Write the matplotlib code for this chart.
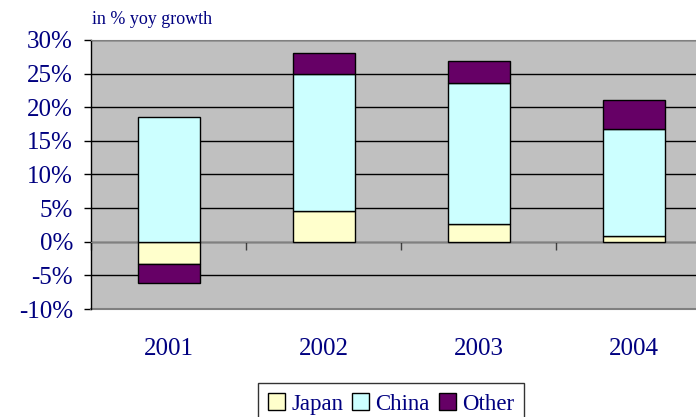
import numpy as np
import matplotlib.pyplot as plt
from matplotlib.ticker import MultipleLocator, FuncFormatter
from matplotlib.patches import Patch

# yoy growth contributions, in %
years = ['2001', '2002', '2003', '2004']
japan = [-3.3, 4.6, 2.7, 0.8]
china = [18.6, 20.3, 20.9, 15.9]
other = [-2.9, 3.1, 3.3, 4.4]

navy = '#000080'
plt.rcParams['font.family'] = ['Liberation Serif', 'DejaVu Serif']

fig = plt.figure(figsize=(6.96, 4.17), dpi=100)
ax = fig.add_axes([91 / 696, 1 - 309 / 417, 620 / 696, 269 / 417])
ax.set_facecolor('#C0C0C0')

x = np.arange(len(years))
japan = np.array(japan)
china = np.array(china)
other = np.array(other)

# positive values stack upward, negative values downward
pos = np.zeros(len(years))
neg = np.zeros(len(years))
for vals, col, name in [(japan, '#FFFFCC', 'Japan'), (china, '#CCFFFF', 'China'), (other, '#660066', 'Other')]:
    base = np.where(vals >= 0, pos, neg)
    ax.bar(x, vals, 0.4, bottom=base, color=col, edgecolor='black', linewidth=1, zorder=3)
    pos = pos + np.where(vals >= 0, vals, 0)
    neg = neg + np.where(vals < 0, vals, 0)

ax.set_xlim(-0.5, 3.5)
ax.set_ylim(-10, 30)
ax.yaxis.set_major_locator(MultipleLocator(5))
ax.yaxis.set_major_formatter(FuncFormatter(lambda v, p: f'{v:.0f}%'))
ax.grid(axis='y', color='black', linewidth=1, zorder=1)
ax.tick_params(axis='y', labelsize=18, labelcolor=navy, length=5, width=1, pad=8)

# x axis at 0, labels pushed down below the plot area
ax.spines['bottom'].set_position(('data', 0))
ax.spines['bottom'].set_color('#808080')
ax.set_xticks(x)
ax.set_xticklabels(years)
ax.set_xticks(np.arange(-0.5, 3.5, 1), minor=True)
ax.tick_params(axis='x', which='major', length=0, labelsize=18, labelcolor=navy, pad=69)
ax.tick_params(axis='x', which='minor', length=6, width=1, color='#404040', direction='out')

ax.spines['left'].set_linewidth(1)
ax.spines['top'].set_color('#808080')
ax.spines['right'].set_visible(False)
ax.axhline(-10, color='#808080', linewidth=1.5, zorder=2, clip_on=False)

fig.text(92 / 696, 1 - 20 / 417, 'in % yoy growth', fontsize=13, color=navy, va='center', ha='left')

handles = [Patch(facecolor='#FFFFCC', edgecolor='black', label='Japan'),
           Patch(facecolor='#CCFFFF', edgecolor='black', label='China'),
           Patch(facecolor='#660066', edgecolor='black', label='Other')]
leg = fig.legend(handles=handles, loc='upper center', bbox_to_anchor=(391 / 696, 1 - 383 / 417),
                 ncol=3, frameon=True, fancybox=False, edgecolor='black', fontsize=16.5,
                 handlelength=0.75, handleheight=0.75, handletextpad=0.25, columnspacing=0.4,
                 borderpad=0.45, borderaxespad=0)
for t in leg.get_texts():
    t.set_color(navy)
leg.get_frame().set_linewidth(1)

fig.savefig('out.png', dpi=100)
